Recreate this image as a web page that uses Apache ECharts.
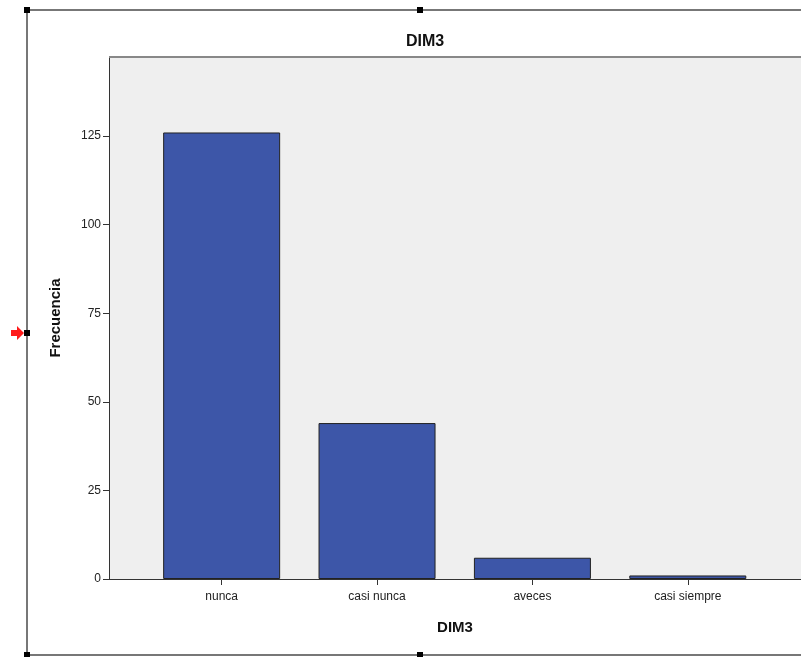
<!DOCTYPE html>
<html><head><meta charset="utf-8">
<script src="https://cdn.jsdelivr.net/npm/echarts@6/dist/echarts.min.js"></script>
<style>html,body{margin:0;padding:0;background:#fff}#c{width:801px;height:657px}</style>
</head><body><div id="c"></div>
<script>
const categories = ['nunca', 'casi nunca', 'aveces', 'casi siempre'];
const frequencies = [126, 44, 6, 1];
const yTicks = [0, 25, 50, 75, 100, 125];
const chartTitle = 'DIM3';
const xName = 'DIM3';
const yName = 'Frecuencia';

const positions = categories.map((c, i) => i);
const chart = echarts.init(document.getElementById('c'), null, {renderer: 'canvas'});
const font = 'Liberation Sans, Arial, sans-serif';
chart.setOption({
  animation: false,
  backgroundColor: '#ffffff',
  title: {
    text: chartTitle, left: 420, top: 29, textAlign: 'center',
    textStyle: {fontFamily: font, fontSize: 16, fontWeight: 'bold', color: '#111'}
  },
  grid: {
    left: 109, right: -2, top: 57, bottom: 78,
    show: true, backgroundColor: '#efefef', borderWidth: 0, borderColor: 'transparent'
  },
  xAxis: {
    type: 'value', min: -0.725, max: 3.7285,
    name: xName, nameLocation: 'middle', nameGap: 41,
    nameTextStyle: {fontFamily: font, fontSize: 15, fontWeight: 'bold', color: '#111'},
    axisLine: {show: true, onZero: false, lineStyle: {color: '#333', width: 1}},
    axisTick: {show: true, length: 6, lineStyle: {color: '#333'}, customValues: positions, inside: false},
    axisLabel: {
      customValues: positions, margin: 12,
      fontFamily: font, fontSize: 12, color: '#222',
      formatter: v => categories[Math.round(v)] ?? ''
    },
    splitLine: {show: false}
  },
  yAxis: {
    type: 'value', min: 0, max: 147.3, interval: 25,
    name: yName, nameLocation: 'middle', nameGap: 46, nameRotate: 90,
    nameTextStyle: {fontFamily: font, fontSize: 15, fontWeight: 'bold', color: '#111'},
    axisLine: {show: true, onZero: false, lineStyle: {color: '#333', width: 1}},
    axisTick: {show: true, length: 6, lineStyle: {color: '#333'}, customValues: yTicks},
    axisLabel: {customValues: yTicks, margin: 8, fontFamily: font, fontSize: 12, color: '#222'},
    splitLine: {show: false}
  },
  series: [{
    type: 'bar',
    barWidth: 117,
    data: positions.map((p, i) => [p, frequencies[i]]),
    itemStyle: {color: '#3d56a8', borderColor: '#222', borderWidth: 1}
  }],
  graphic: [
    {type: 'line', shape: {x1: 109, y1: 57, x2: 801, y2: 57}, style: {stroke: '#888', lineWidth: 2}, z: 10},
    {type: 'rect', shape: {x: 27, y: 10, width: 800, height: 645}, style: {fill: null, stroke: '#777', lineWidth: 2}, z: 10},
    {type: 'rect', shape: {x: 24, y: 7, width: 6, height: 6}, style: {fill: '#000'}, z: 11},
    {type: 'rect', shape: {x: 417, y: 7, width: 6, height: 6}, style: {fill: '#000'}, z: 11},
    {type: 'rect', shape: {x: 24, y: 330, width: 6, height: 6}, style: {fill: '#000'}, z: 11},
    {type: 'rect', shape: {x: 24, y: 652, width: 6, height: 6}, style: {fill: '#000'}, z: 11},
    {type: 'rect', shape: {x: 417, y: 652, width: 6, height: 6}, style: {fill: '#000'}, z: 11},
    {type: 'polygon', shape: {points: [[11, 330], [17, 330], [17, 326], [24, 333], [17, 340], [17, 336], [11, 336]]}, style: {fill: '#ff1a1a'}, z: 11}
  ]
});
</script></body></html>
